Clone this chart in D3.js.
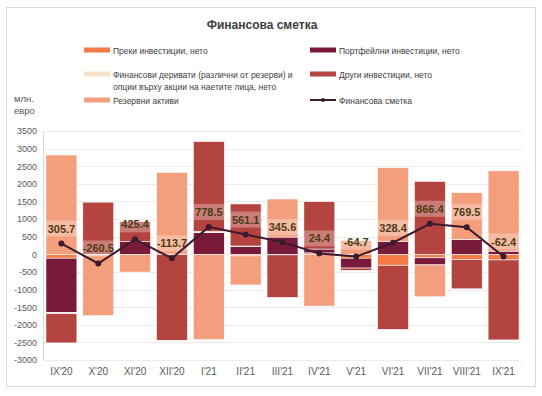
<!DOCTYPE html>
<html>
<head>
<meta charset="utf-8">
<script src="https://cdn.jsdelivr.net/npm/d3@7"></script>
<style>
  body { margin: 0; background: #fff; }
  text { font-family: "Liberation Sans", Arial, sans-serif; }
</style>
</head>
<body>
<svg id="chart" width="542" height="396"></svg>
<script>
let months = ["IX'20", "X'20", "XI'20", "XII'20", "I'21", "II'21", "III'21", "IV'21", "V'21", "VI'21", "VII'21", "VIII'21", "IX'21"]
let direct = [-110, -20, -5, 6, 0, -45, -15, 40, -110, -310, -100, -150, -160]
let portfolio = [-1545, 0, 360, 0, 620, 220, 490, 110, -280, 370, -200, 425, 90]
let derivatives = [-30, 0, 0, 0, 30, 15, 0, 0, 0, 0, 0, 0, 0]
let other = [-830, 1480, 570, -2440, 2550, 1195, -1210, 1345, -65, -1820, 2070, -830, -2270]
let reserves = [2820, -1720, -500, 2320, -2420, -825, 1080, -1470, 390, 2090, -905, 1325, 2280]
let account = [305.7, -260.5, 425.4, -113.7, 778.5, 561.1, 345.6, 24.4, -64.7, 328.4, 866.4, 769.5, -62.4]
let yTicks = [-3000, -2500, -2000, -1500, -1000, -500, 0, 500, 1000, 1500, 2000, 2500, 3000, 3500]

let series = [
  { key: "direct", name: ["Преки инвестиции, нето"], values: direct, color: "#f47b43" },
  { key: "portfolio", name: ["Портфейлни инвестиции, нето"], values: portfolio, color: "#7a1a3a" },
  { key: "derivatives", name: ["Финансови деривати (различни от резерви) и", "опции върху акции на наетите лица, нето"], values: derivatives, color: "#f6e2cb" },
  { key: "other", name: ["Други инвестиции, нето"], values: other, color: "#b4443f" },
  { key: "reserves", name: ["Резервни активи"], values: reserves, color: "#f39e7d" }
]

let rows = months.map((m, i) => {
  let r = { month: m }
  for (let s of series) r[s.key] = s.values[i]
  return r
})

let svg = d3.select("#chart")

svg.append("rect")
  .attr("x", 6.5).attr("y", 7.5).attr("width", 529).attr("height", 379)
  .style("fill", "none").style("stroke", "#d9d9d9")

svg.append("text")
  .attr("x", 262).attr("y", 29)
  .attr("text-anchor", "middle")
  .style("font-size", "12px").style("font-weight", "bold").style("fill", "#404040")
  .text("Финансова сметка")

let x = d3.scaleBand().domain(months).range([43, 522]).paddingInner(0.16).paddingOuter(0.08)
let y = d3.scaleLinear().domain([-3000, 3500]).range([360, 131])

// grid
svg.append("g").selectAll("line")
  .data(yTicks)
  .join("line")
  .attr("x1", 43).attr("x2", 522)
  .attr("y1", d => Math.round(y(d)) + 0.5).attr("y2", d => Math.round(y(d)) + 0.5)
  .style("stroke", "#ebebeb")

svg.append("line")
  .attr("x1", 43.5).attr("x2", 43.5).attr("y1", 131).attr("y2", 360)
  .style("stroke", "#d9d9d9")

let yAxis = svg.append("g")
  .attr("transform", "translate(43,0)")
  .call(d3.axisLeft(y).tickValues(yTicks).tickFormat(d => String(d)).tickSize(0).tickPadding(6))
yAxis.select(".domain").remove()
yAxis.selectAll("text").style("font-size", "9px").style("fill", "#595959").style("font-family", "Liberation Sans, Arial, sans-serif")

let xAxis = svg.append("g")
  .attr("transform", "translate(0,366)")
  .call(d3.axisBottom(x).tickSize(0).tickPadding(2))
xAxis.select(".domain").remove()
xAxis.selectAll("text").style("font-size", "10px").style("fill", "#595959").style("font-family", "Liberation Sans, Arial, sans-serif")

svg.append("text").attr("x", 14).attr("y", 102).style("font-size", "9.5px").style("fill", "#595959").text("млн.")
svg.append("text").attr("x", 14).attr("y", 114).style("font-size", "9.5px").style("fill", "#595959").text("евро")

// stacked bars
let stack = d3.stack()
  .keys(series.map(s => s.key))
  .offset(d3.stackOffsetDiverging)
let stacked = stack(rows)

svg.append("g").selectAll("g")
  .data(stacked)
  .join("g")
  .style("fill", (d, i) => series[i].color)
  .selectAll("rect")
  .data(d => d)
  .join("rect")
  .attr("x", d => x(d.data.month))
  .attr("width", x.bandwidth())
  .attr("y", d => y(Math.max(d[0], d[1])))
  .attr("height", d => Math.abs(y(d[0]) - y(d[1])))
  .style("stroke", "#fff")
  .style("stroke-width", 0.6)

// value boxes
let labels = svg.append("g")
labels.selectAll("rect")
  .data(account)
  .join("rect")
  .attr("x", (d, i) => x(months[i]))
  .attr("width", x.bandwidth())
  .attr("y", d => y(d) - 23)
  .attr("height", 16)
  .style("fill", "#fff")
  .style("opacity", 0.3)

// line
let line = d3.line()
  .x((d, i) => x(months[i]) + x.bandwidth() / 2)
  .y(d => y(d))

svg.append("path")
  .datum(account)
  .attr("d", line)
  .style("fill", "none")
  .style("stroke", "#3c1a2d")
  .style("stroke-width", 2)

svg.append("g").selectAll("circle")
  .data(account)
  .join("circle")
  .attr("cx", (d, i) => x(months[i]) + x.bandwidth() / 2)
  .attr("cy", d => y(d))
  .attr("r", 3)
  .style("fill", "#3c1a2d")

labels.selectAll("text")
  .data(account)
  .join("text")
  .attr("x", (d, i) => x(months[i]) + x.bandwidth() / 2)
  .attr("y", d => y(d) - 11)
  .attr("text-anchor", "middle")
  .style("font-family", "Liberation Sans Narrow, Liberation Sans, Arial, sans-serif")
  .style("font-size", "11px")
  .style("font-weight", "bold")
  .style("fill", "#4d3c15")
  .text(d => d.toFixed(1))

// legend
let legendPos = [[84, 50], [310, 50], [84, 74], [310, 74], [84, 100]]
let legend = svg.append("g")
series.forEach((s, i) => {
  let g = legend.append("g").attr("transform", `translate(${legendPos[i][0]},${legendPos[i][1]})`)
  g.append("rect").attr("x", 0).attr("y", -2.5).attr("width", 26).attr("height", 5).style("fill", s.color)
  s.name.forEach((t, j) => {
    g.append("text").attr("x", 29).attr("y", 3.5 + j * 12)
      .style("font-size", "8.5px").style("fill", "#404040").text(t)
  })
})
let lg = legend.append("g").attr("transform", "translate(310,100)")
lg.append("line").attr("x1", 0).attr("x2", 26).attr("y1", 0).attr("y2", 0).style("stroke", "#3c1a2d").style("stroke-width", 2)
lg.append("circle").attr("cx", 13).attr("cy", 0).attr("r", 2).style("fill", "#3c1a2d")
lg.append("text").attr("x", 29).attr("y", 3.5).style("font-size", "8.5px").style("fill", "#404040").text("Финансова сметка")
</script>
</body>
</html>
